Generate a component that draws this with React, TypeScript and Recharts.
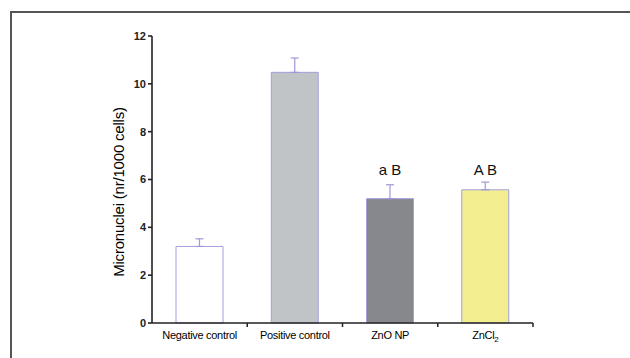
import React from 'react';
import { BarChart, Bar, XAxis, YAxis, ErrorBar, Cell, ReferenceDot } from 'recharts';

const categories = ['Negative control', 'Positive control', 'ZnO NP', 'ZnCl2'];
const means = [3.2, 10.48, 5.2, 5.57];
const sems = [0.32, 0.6, 0.58, 0.32];
const letters = ['', '', 'a B', 'A B'];
const letterLevel = 6.4;
const fills = ['#ffffff', '#c1c4c7', '#86888e', '#f3ee8f'];
const yTicks = [0, 2, 4, 6, 8, 10, 12];

const data = categories.map((c, i) => ({ name: c, mean: means[i], err: [0, sems[i]] }));

const FONT = '"Liberation Sans", Arial, sans-serif';
const AXIS = '#222';

const XTick = (props: any) => {
  const { x, y, payload } = props;
  const half = payload && typeof payload.offset === 'number' && payload.offset > 0 ? payload.offset : 47.6;
  const v: string = payload.value;
  const label = v === 'ZnCl2' ? (
    <text x={x} y={y} dy="0.71em" textAnchor="middle" fontSize={11} fill="#000" fontFamily={FONT} letterSpacing={-0.3}>
      ZnCl<tspan fontSize={8} dy={3}>2</tspan>
    </text>
  ) : (
    <text x={x} y={y} dy="0.71em" textAnchor="middle" fontSize={11} fill="#000" fontFamily={FONT} letterSpacing={-0.3}>
      {v}
    </text>
  );
  return (
    <g>
      <line x1={x + half} x2={x + half} y1={y - 8} y2={y - 4} stroke={AXIS} strokeWidth={1.5} />
      {label}
    </g>
  );
};

export default function App() {
  return (
    <div style={{ position: 'fixed', left: 0, top: 0, width: 630, height: 358, background: '#fff' }}>
      <div style={{ position: 'absolute', left: 10, top: 11, width: 620, height: 2, background: '#555' }} />
      <div style={{ position: 'absolute', left: 10, top: 11, width: 2, height: 347, background: '#555' }} />
      <div style={{ position: 'absolute', left: 0, top: 0 }}>
        <BarChart width={630} height={358} data={data} margin={{ top: 36, right: 97, bottom: 5, left: 0 }} barCategoryGap={0}>
          <XAxis
            dataKey="name"
            height={30}
            tickLine={false}
            tick={<XTick />}
            axisLine={{ stroke: AXIS, strokeWidth: 1.6 }}
            interval={0}
          />
          <YAxis
            width={152}
            domain={[0, 12]}
            ticks={yTicks}
            tickSize={4}
            tickLine={{ stroke: AXIS, strokeWidth: 1.6 }}
            axisLine={{ stroke: AXIS, strokeWidth: 1.6 }}
            tick={{ fontSize: 11, fontWeight: 'bold', fill: '#222', fontFamily: FONT }}
            label={{
              content: () => (
                <text
                  x={118}
                  y={192}
                  transform="rotate(-90, 118, 192)"
                  textAnchor="middle"
                  dominantBaseline="central"
                  fontSize={15}
                  fill="#000"
                  fontFamily={FONT}
                  letterSpacing={-0.2}
                >
                  Micronuclei (nr/1000 cells)
                </text>
              ),
            }}
          />
          <Bar dataKey="mean" barSize={47} stroke="#a59fda" strokeWidth={1} isAnimationActive={false}>
            {data.map((d, i) => (
              <Cell key={d.name} fill={fills[i]} />
            ))}
            <ErrorBar dataKey="err" width={4} stroke="#9f98d6" strokeWidth={1.2} direction="y" />
          </Bar>
          {categories.map((c, i) =>
            letters[i] ? (
              <ReferenceDot
                key={c}
                x={c}
                y={letterLevel}
                r={1}
                fill="none"
                stroke="none"
                label={{ value: letters[i], position: 'center', fontSize: 15, fill: '#111', fontFamily: FONT }}
              />
            ) : null
          )}
        </BarChart>
      </div>
    </div>
  );
}
